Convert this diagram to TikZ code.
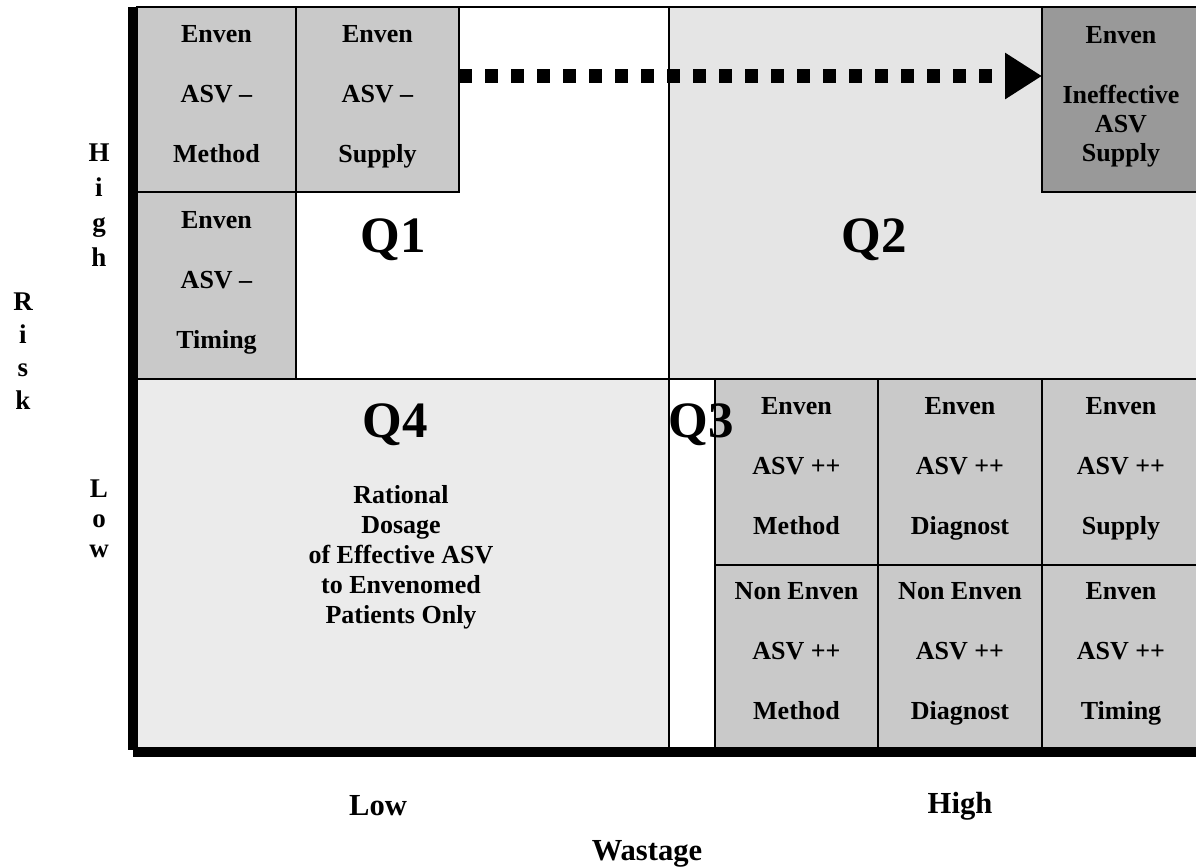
\documentclass[tikz,border=0pt]{standalone}
\usepackage{fontspec}
\setmainfont{Liberation Serif}
\usetikzlibrary{positioning, arrows.meta}
\definecolor{cellgray}{gray}{0.79}
\definecolor{darkcell}{gray}{0.6}
\definecolor{qtwo}{gray}{0.9}
\definecolor{qfour}{gray}{0.92}
\tikzset{
  cell/.style={
    draw, line width=1pt, fill=cellgray, inner sep=0pt, outer sep=0pt,
    align=center, font=\fontsize{13}{30}\selectfont\bfseries,
    execute at end node={\rule[-6pt]{0pt}{0pt}}
  },
  quad/.style={draw, line width=1pt},
  qlabel/.style={font=\fontsize{25.5}{28}\selectfont\bfseries, anchor=base},
  axislabel/.style={font=\fontsize{15.3}{17}\selectfont\bfseries, anchor=base},
  axisletters/.style={align=center, font=\fontsize{13.5}{17}\selectfont\bfseries},
  axisline/.style={line width=5pt},
  dotarrow/.style={line width=7pt, dash pattern=on 6.5pt off 6.5pt,
    -{Triangle[length=18.5pt, width=22pt]}}
}

\begin{document}
\begin{tikzpicture}[x=0.5pt, y=-0.5pt]
    \path[use as bounding box, fill=white] (0,0) rectangle (1196,868);

    % quadrants
    \draw[quad, fill=white] (137,7) rectangle (669,379);
    \draw[quad, fill=qtwo]  (669,7) rectangle (1200,379);
    \draw[quad, fill=qfour] (137,379) rectangle (669,748);
    \draw[quad, fill=white] (669,379) rectangle (715,748);

    % Q1 cells
    \node[cell, anchor=north west, minimum width=79.5pt, minimum height=92.5pt] (aa) at (137,7) {Enven\\ASV --\\Method};
    \node[cell, right = 0pt of aa, minimum width=81.5pt, minimum height=92.5pt] (ab) {Enven\\ASV --\\Supply};
    \node[cell, below = 0pt of aa, minimum width=79.5pt, minimum height=93.5pt] (ba) {Enven\\ASV --\\Timing};

    % Q2 cell
    \node[cell, fill=darkcell, anchor=north west, minimum width=79pt, minimum height=92.5pt,
      font=\fontsize{13}{14.5}\selectfont\bfseries] (ae) at (1042,7) {Enven\\[15.5pt]Ineffective\\ASV\\Supply};

    % Q3 cells
    \node[cell, anchor=north west, minimum width=81.5pt, minimum height=93pt] (ca) at (715,379) {Enven\\ASV ++\\Method};
    \node[cell, right = 0pt of ca, minimum width=82pt, minimum height=93pt] (cb) {Enven\\ASV ++\\Diagnost};
    \node[cell, right = 0pt of cb, minimum width=79pt, minimum height=93pt] (cc) {Enven\\ASV ++\\Supply};
    \node[cell, below = 0pt of ca, minimum width=81.5pt, minimum height=91.5pt] (da) {Non Enven\\ASV ++\\Method};
    \node[cell, below = 0pt of cb, minimum width=82pt, minimum height=91.5pt] (db) {Non Enven\\ASV ++\\Diagnost};
    \node[cell, below = 0pt of cc, minimum width=79pt, minimum height=91.5pt] (dc) {Enven\\ASV ++\\Timing};

    % quadrant labels
    \node[qlabel] (q1) at (393,252) {Q1};
    \node[qlabel] (q2) at (874,252) {Q2};
    \node[qlabel] (q3) at (701,437) {Q3};
    \node[qlabel] (q4) at (395,437) {Q4};
    \node[align=center, font=\fontsize{13}{15}\selectfont\bfseries] (q4text) at (401,557)
      {Rational\\Dosage\\of Effective ASV\\to Envenomed\\Patients Only};

    % arrow
    \coordinate (dots) at (0,76);
    \draw[dotarrow] (ab.east |- dots) -- (ae.west |- dots);

    % axes
    \draw[axisline] (133,7) -- (133,750);
    \draw[axisline] (133,752) -- (1200,752);

    \node[axisletters, font=\fontsize{13.5}{17.5}\selectfont\bfseries] (high) at (99,205) {H\\i\\g\\h};
    \node[axisletters, font=\fontsize{13.5}{16.5}\selectfont\bfseries] (risk) at (23,351) {R\\i\\s\\k};
    \node[axisletters, font=\fontsize{13.5}{15}\selectfont\bfseries] (low) at (99,519) {L\\o\\w};
    \node[axislabel] (wlow) at (378,815) {Low};
    \node[axislabel] (whigh) at (960,813) {High};
    \node[axislabel] (wastage) at (647,860) {Wastage};
\end{tikzpicture}
\end{document}
